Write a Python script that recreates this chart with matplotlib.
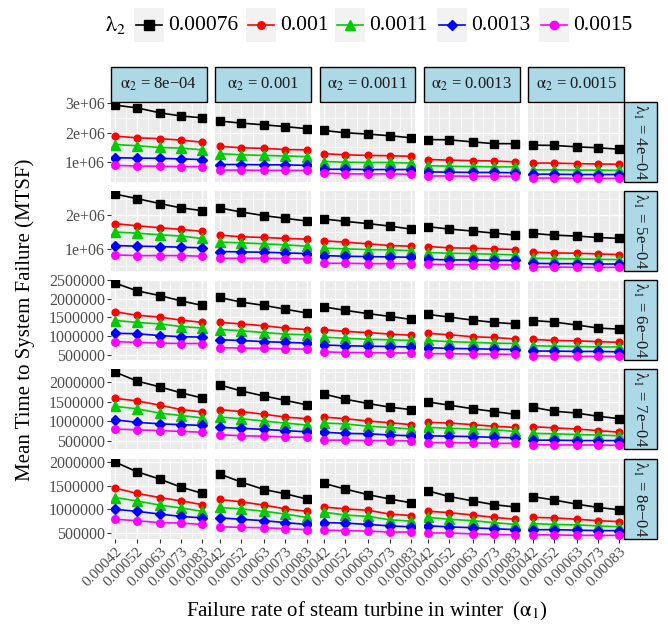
import matplotlib
matplotlib.use('Agg')
import matplotlib.pyplot as plt
import matplotlib.ticker as mticker
from matplotlib.patches import Rectangle
import numpy as np

plt.rcParams['font.family'] = ['Liberation Serif', 'DejaVu Serif']
plt.rcParams['mathtext.fontset'] = 'stix'

# x axis: failure rate of steam turbine in winter (alpha1)
alpha1 = [0.00042, 0.00052, 0.00063, 0.00073, 0.00083]
alpha1_labels = ['0.00042', '0.00052', '0.00063', '0.00073', '0.00083']
# facet columns / rows
alpha2_labels = ['8e\u221204', '0.001', '0.0011', '0.0013', '0.0015']
lambda1_labels = ['4e\u221204', '5e\u221204', '6e\u221204', '7e\u221204', '8e\u221204']
# series
lambda2_labels = ['0.00076', '0.001', '0.0011', '0.0013', '0.0015']

# MTSF in millions: [alpha2 column][lambda2 series][alpha1 point]
mtsf_l1_4e04 = [
    [[2.94, 2.85, 2.68, 2.57, 2.51], [1.885, 1.83, 1.80, 1.75, 1.68], [1.60, 1.56, 1.50, 1.48, 1.42],
     [1.15, 1.14, 1.13, 1.11, 1.09], [0.89, 0.87, 0.86, 0.85, 0.85]],
    [[2.40, 2.33, 2.27, 2.21, 2.14], [1.54, 1.49, 1.47, 1.43, 1.42], [1.29, 1.25, 1.23, 1.21, 1.19],
     [0.92, 0.92, 0.91, 0.91, 0.89], [0.73, 0.73, 0.72, 0.72, 0.72]],
    [[2.08, 2.00, 1.955, 1.90, 1.83], [1.29, 1.25, 1.23, 1.22, 1.20], [1.02, 1.00, 0.99, 0.99, 0.97],
     [0.76, 0.76, 0.75, 0.75, 0.75], [0.63, 0.60, 0.60, 0.60, 0.59]],
    [[1.77, 1.76, 1.69, 1.63, 1.63], [1.09, 1.07, 1.05, 1.04, 1.01], [0.88, 0.86, 0.85, 0.84, 0.84],
     [0.67, 0.66, 0.65, 0.65, 0.64], [0.53, 0.53, 0.52, 0.52, 0.52]],
    [[1.58, 1.57, 1.52, 1.49, 1.44], [0.97, 0.97, 0.95, 0.94, 0.93], [0.74, 0.74, 0.73, 0.73, 0.72],
     [0.59, 0.59, 0.58, 0.58, 0.58], [0.46, 0.46, 0.45, 0.45, 0.45]],
]
mtsf_l1_5e04 = [
    [[2.63, 2.50, 2.35, 2.22, 2.14], [1.75, 1.69, 1.63, 1.58, 1.52], [1.50, 1.47, 1.42, 1.38, 1.31],
     [1.10, 1.08, 1.07, 1.05, 1.03], [0.82, 0.80, 0.80, 0.80, 0.78]],
    [[2.22, 2.10, 1.99, 1.91, 1.83], [1.41, 1.36, 1.34, 1.31, 1.29], [1.20, 1.18, 1.15, 1.12, 1.08],
     [0.92, 0.91, 0.90, 0.88, 0.86], [0.72, 0.72, 0.72, 0.71, 0.70]],
    [[1.89, 1.82, 1.75, 1.68, 1.59], [1.24, 1.20, 1.15, 1.10, 1.08], [1.02, 1.00, 0.98, 0.97, 0.95],
     [0.80, 0.78, 0.77, 0.76, 0.75], [0.57, 0.57, 0.56, 0.56, 0.56]],
    [[1.66, 1.59, 1.53, 1.47, 1.41], [1.07, 1.03, 1.02, 1.00, 0.98], [0.89, 0.87, 0.86, 0.84, 0.82],
     [0.69, 0.67, 0.67, 0.66, 0.66], [0.54, 0.53, 0.53, 0.53, 0.52]],
    [[1.46, 1.41, 1.38, 1.34, 1.31], [0.90, 0.88, 0.87, 0.85, 0.83], [0.72, 0.71, 0.70, 0.69, 0.68],
     [0.57, 0.56, 0.56, 0.55, 0.55], [0.46, 0.46, 0.45, 0.45, 0.45]],
]
mtsf_l1_6e04 = [
    [[2.41, 2.21, 2.08, 1.94, 1.82], [1.65, 1.56, 1.51, 1.43, 1.37], [1.42, 1.37, 1.33, 1.26, 1.22],
     [1.08, 1.07, 1.02, 0.99, 0.98], [0.86, 0.84, 0.82, 0.81, 0.81]],
    [[2.03, 1.91, 1.82, 1.72, 1.62], [1.37, 1.33, 1.28, 1.22, 1.18], [1.18, 1.15, 1.10, 1.06, 1.04],
     [0.91, 0.89, 0.86, 0.84, 0.82], [0.70, 0.69, 0.68, 0.67, 0.66]],
    [[1.78, 1.69, 1.60, 1.53, 1.45], [1.18, 1.13, 1.10, 1.06, 1.03], [0.98, 0.95, 0.92, 0.91, 0.89],
     [0.77, 0.75, 0.74, 0.73, 0.72], [0.59, 0.57, 0.57, 0.56, 0.56]],
    [[1.58, 1.51, 1.43, 1.37, 1.33], [1.08, 1.04, 0.99, 0.97, 0.93], [0.89, 0.86, 0.84, 0.82, 0.81],
     [0.70, 0.68, 0.67, 0.66, 0.65], [0.54, 0.54, 0.53, 0.53, 0.52]],
    [[1.42, 1.38, 1.30, 1.22, 1.19], [0.92, 0.89, 0.88, 0.86, 0.84], [0.75, 0.74, 0.73, 0.72, 0.72],
     [0.61, 0.61, 0.60, 0.60, 0.59], [0.48, 0.48, 0.47, 0.47, 0.47]],
]
mtsf_l1_7e04 = [
    [[2.24, 2.02, 1.87, 1.72, 1.59], [1.58, 1.52, 1.41, 1.30, 1.24], [1.38, 1.32, 1.21, 1.15, 1.09],
     [1.04, 0.98, 0.94, 0.92, 0.90], [0.81, 0.79, 0.77, 0.75, 0.73]],
    [[1.92, 1.77, 1.64, 1.53, 1.42], [1.30, 1.25, 1.18, 1.11, 1.07], [1.11, 1.07, 1.01, 0.96, 0.91],
     [0.85, 0.83, 0.80, 0.77, 0.74], [0.67, 0.64, 0.63, 0.61, 0.60]],
    [[1.69, 1.56, 1.45, 1.36, 1.30], [1.11, 1.07, 1.01, 0.97, 0.92], [0.96, 0.94, 0.88, 0.85, 0.81],
     [0.73, 0.70, 0.69, 0.66, 0.64], [0.53, 0.53, 0.52, 0.52, 0.51]],
    [[1.49, 1.41, 1.32, 1.25, 1.18], [0.98, 0.96, 0.92, 0.88, 0.85], [0.85, 0.83, 0.81, 0.79, 0.75],
     [0.64, 0.63, 0.62, 0.60, 0.59], [0.47, 0.47, 0.46, 0.45, 0.45]],
    [[1.36, 1.26, 1.21, 1.13, 1.07], [0.87, 0.84, 0.81, 0.77, 0.73], [0.70, 0.69, 0.67, 0.66, 0.64],
     [0.53, 0.53, 0.52, 0.52, 0.52], [0.42, 0.41, 0.41, 0.41, 0.40]],
]
mtsf_l1_8e04 = [
    [[2.00, 1.80, 1.64, 1.47, 1.34], [1.45, 1.34, 1.25, 1.18, 1.10], [1.25, 1.18, 1.09, 1.03, 0.96],
     [1.00, 0.96, 0.90, 0.85, 0.82], [0.79, 0.76, 0.72, 0.71, 0.68]],
    [[1.75, 1.58, 1.42, 1.33, 1.22], [1.21, 1.16, 1.09, 1.01, 0.96], [1.04, 1.01, 0.96, 0.90, 0.83],
     [0.82, 0.79, 0.76, 0.72, 0.68], [0.63, 0.62, 0.61, 0.59, 0.57]],
    [[1.55, 1.43, 1.31, 1.22, 1.14], [1.05, 1.01, 0.98, 0.90, 0.87], [0.94, 0.88, 0.85, 0.78, 0.75],
     [0.72, 0.71, 0.68, 0.65, 0.63], [0.56, 0.55, 0.54, 0.52, 0.52]],
    [[1.39, 1.27, 1.18, 1.10, 1.05], [0.96, 0.93, 0.88, 0.83, 0.79], [0.83, 0.79, 0.76, 0.72, 0.68],
     [0.65, 0.63, 0.61, 0.59, 0.57], [0.50, 0.50, 0.48, 0.47, 0.46]],
    [[1.27, 1.20, 1.11, 1.04, 0.99], [0.83, 0.82, 0.79, 0.76, 0.74], [0.70, 0.68, 0.67, 0.65, 0.63],
     [0.57, 0.57, 0.56, 0.55, 0.55], [0.46, 0.46, 0.45, 0.45, 0.45]],
]
mtsf_rows = [mtsf_l1_4e04, mtsf_l1_5e04, mtsf_l1_6e04, mtsf_l1_7e04, mtsf_l1_8e04]

colors = ['black', '#FF0000', '#00CD00', '#0000FF', '#FF00FF']
markers = ['s', 'o', '^', 'D', 'o']
msizes = [6.0, 4.8, 6.8, 4.6, 5.4]

W, H = 668, 629
fig = plt.figure(figsize=(W / 100, H / 100), dpi=100)


def px(x0, y0, w, h):
    return [x0 / W, 1 - (y0 + h) / H, w / W, h / H]


col_left = [111, 215.3, 319.6, 423.9, 528.2]
pw = 95.6
row_top = [101.5, 190.5, 279.5, 368.5, 458.5]
ph = 80.5
strip_h = 35
strip_w = 33

x_minor = [(a + b) / 2 for a, b in zip(alpha1[:-1], alpha1[1:])]
tick_col = '#333333'
lab_col = '#4D4D4D'
strip_kw = dict(facecolor='#ADD8E6', edgecolor='black', linewidth=1.0)

for r in range(5):
    row_ax = None
    for c in range(5):
        ax = fig.add_axes(px(col_left[c], row_top[r], pw, ph), sharey=row_ax)
        if row_ax is None:
            row_ax = ax
        ax.set_facecolor('#EBEBEB')
        for s in ax.spines.values():
            s.set_visible(False)
        vals = np.array(mtsf_rows[r][c]) * 1e6
        for k in range(5):
            ax.plot(alpha1, vals[k], color=colors[k], marker=markers[k], ms=msizes[k],
                    lw=1.2, mec=colors[k], zorder=3)
        ax.set_xticks(alpha1)
        ax.set_xticks(x_minor, minor=True)
        if r < 2:
            ax.yaxis.set_major_locator(mticker.MultipleLocator(1e6))
            ax.yaxis.set_major_formatter(mticker.FuncFormatter(lambda v, p: f'{v:.0e}'))
        else:
            ax.yaxis.set_major_locator(mticker.MultipleLocator(5e5))
            ax.yaxis.set_major_formatter(mticker.FuncFormatter(lambda v, p: f'{v:.0f}'))
        ax.yaxis.set_minor_locator(mticker.AutoMinorLocator(2))
        ax.grid(which='major', color='white', lw=1.0)
        ax.grid(which='minor', color='white', lw=0.5)
        ax.set_axisbelow(True)
        ax.tick_params(which='minor', length=0)
        ax.tick_params(which='major', length=3, width=0.8, color=tick_col,
                       labelcolor=lab_col, labelsize=11.5, pad=1.5)
        if c == 0:
            ax.tick_params(axis='y', labelleft=True)
        else:
            ax.tick_params(axis='y', left=False, labelleft=False)
        if r == 4:
            ax.set_xticklabels(alpha1_labels, rotation=45, ha='right', va='top',
                               rotation_mode='anchor', fontsize=11)
        else:
            ax.tick_params(axis='x', bottom=False, labelbottom=False)

        # top strips
        if r == 0:
            sax = fig.add_axes(px(col_left[c], row_top[0] - strip_h, pw, strip_h))
            sax.set_axis_off()
            sax.add_patch(Rectangle((0, 0), 1, 1, transform=sax.transAxes, clip_on=False, **strip_kw))
            sax.text(0.5, 0.5, r'$\mathrm{\alpha}_2$ = ' + alpha2_labels[c], ha='center', va='center',
                     fontsize=12, color='#1A1A1A', transform=sax.transAxes)
    # right strips
    sax = fig.add_axes(px(col_left[4] + pw, row_top[r], strip_w, ph))
    sax.set_axis_off()
    sax.add_patch(Rectangle((0, 0), 1, 1, transform=sax.transAxes, clip_on=False, **strip_kw))
    sax.text(0.5, 0.5, r'$\mathrm{\lambda}_1$ = ' + lambda1_labels[r], ha='center', va='center',
             rotation=-90, fontsize=12, color='#1A1A1A', transform=sax.transAxes)

# axis titles
fig.text(25 / W, 1 - 320 / H, 'Mean Time to System Failure (MTSF)', rotation=90,
         ha='center', va='center', fontsize=15)
fig.text(367 / W, 1 - 611 / H, r'Failure rate of steam turbine in winter  ($\mathrm{\alpha}_1$)',
         ha='center', va='center', fontsize=15)

# legend on top
lax = fig.add_axes([0, 0, 1, 1])
lax.set_xlim(0, W)
lax.set_ylim(H, 0)
lax.set_axis_off()
lax.text(105, 25, r'$\mathrm{\lambda}_2$', ha='left', va='center', fontsize=16)
key_x = [134, 246, 335, 437, 539]
for k in range(5):
    x0 = key_x[k]
    lax.add_patch(Rectangle((x0, 8), 30, 34, facecolor='#F2F2F2', edgecolor='none'))
    lax.plot([x0 + 2, x0 + 15, x0 + 28], [25, 25, 25], color=colors[k], lw=1.2,
             marker=markers[k], ms=msizes[k] + 0.6, markevery=[1])
    lax.text(x0 + 34, 25, lambda2_labels[k], ha='left', va='center', fontsize=15.5)

fig.savefig('out.png', dpi=100)
